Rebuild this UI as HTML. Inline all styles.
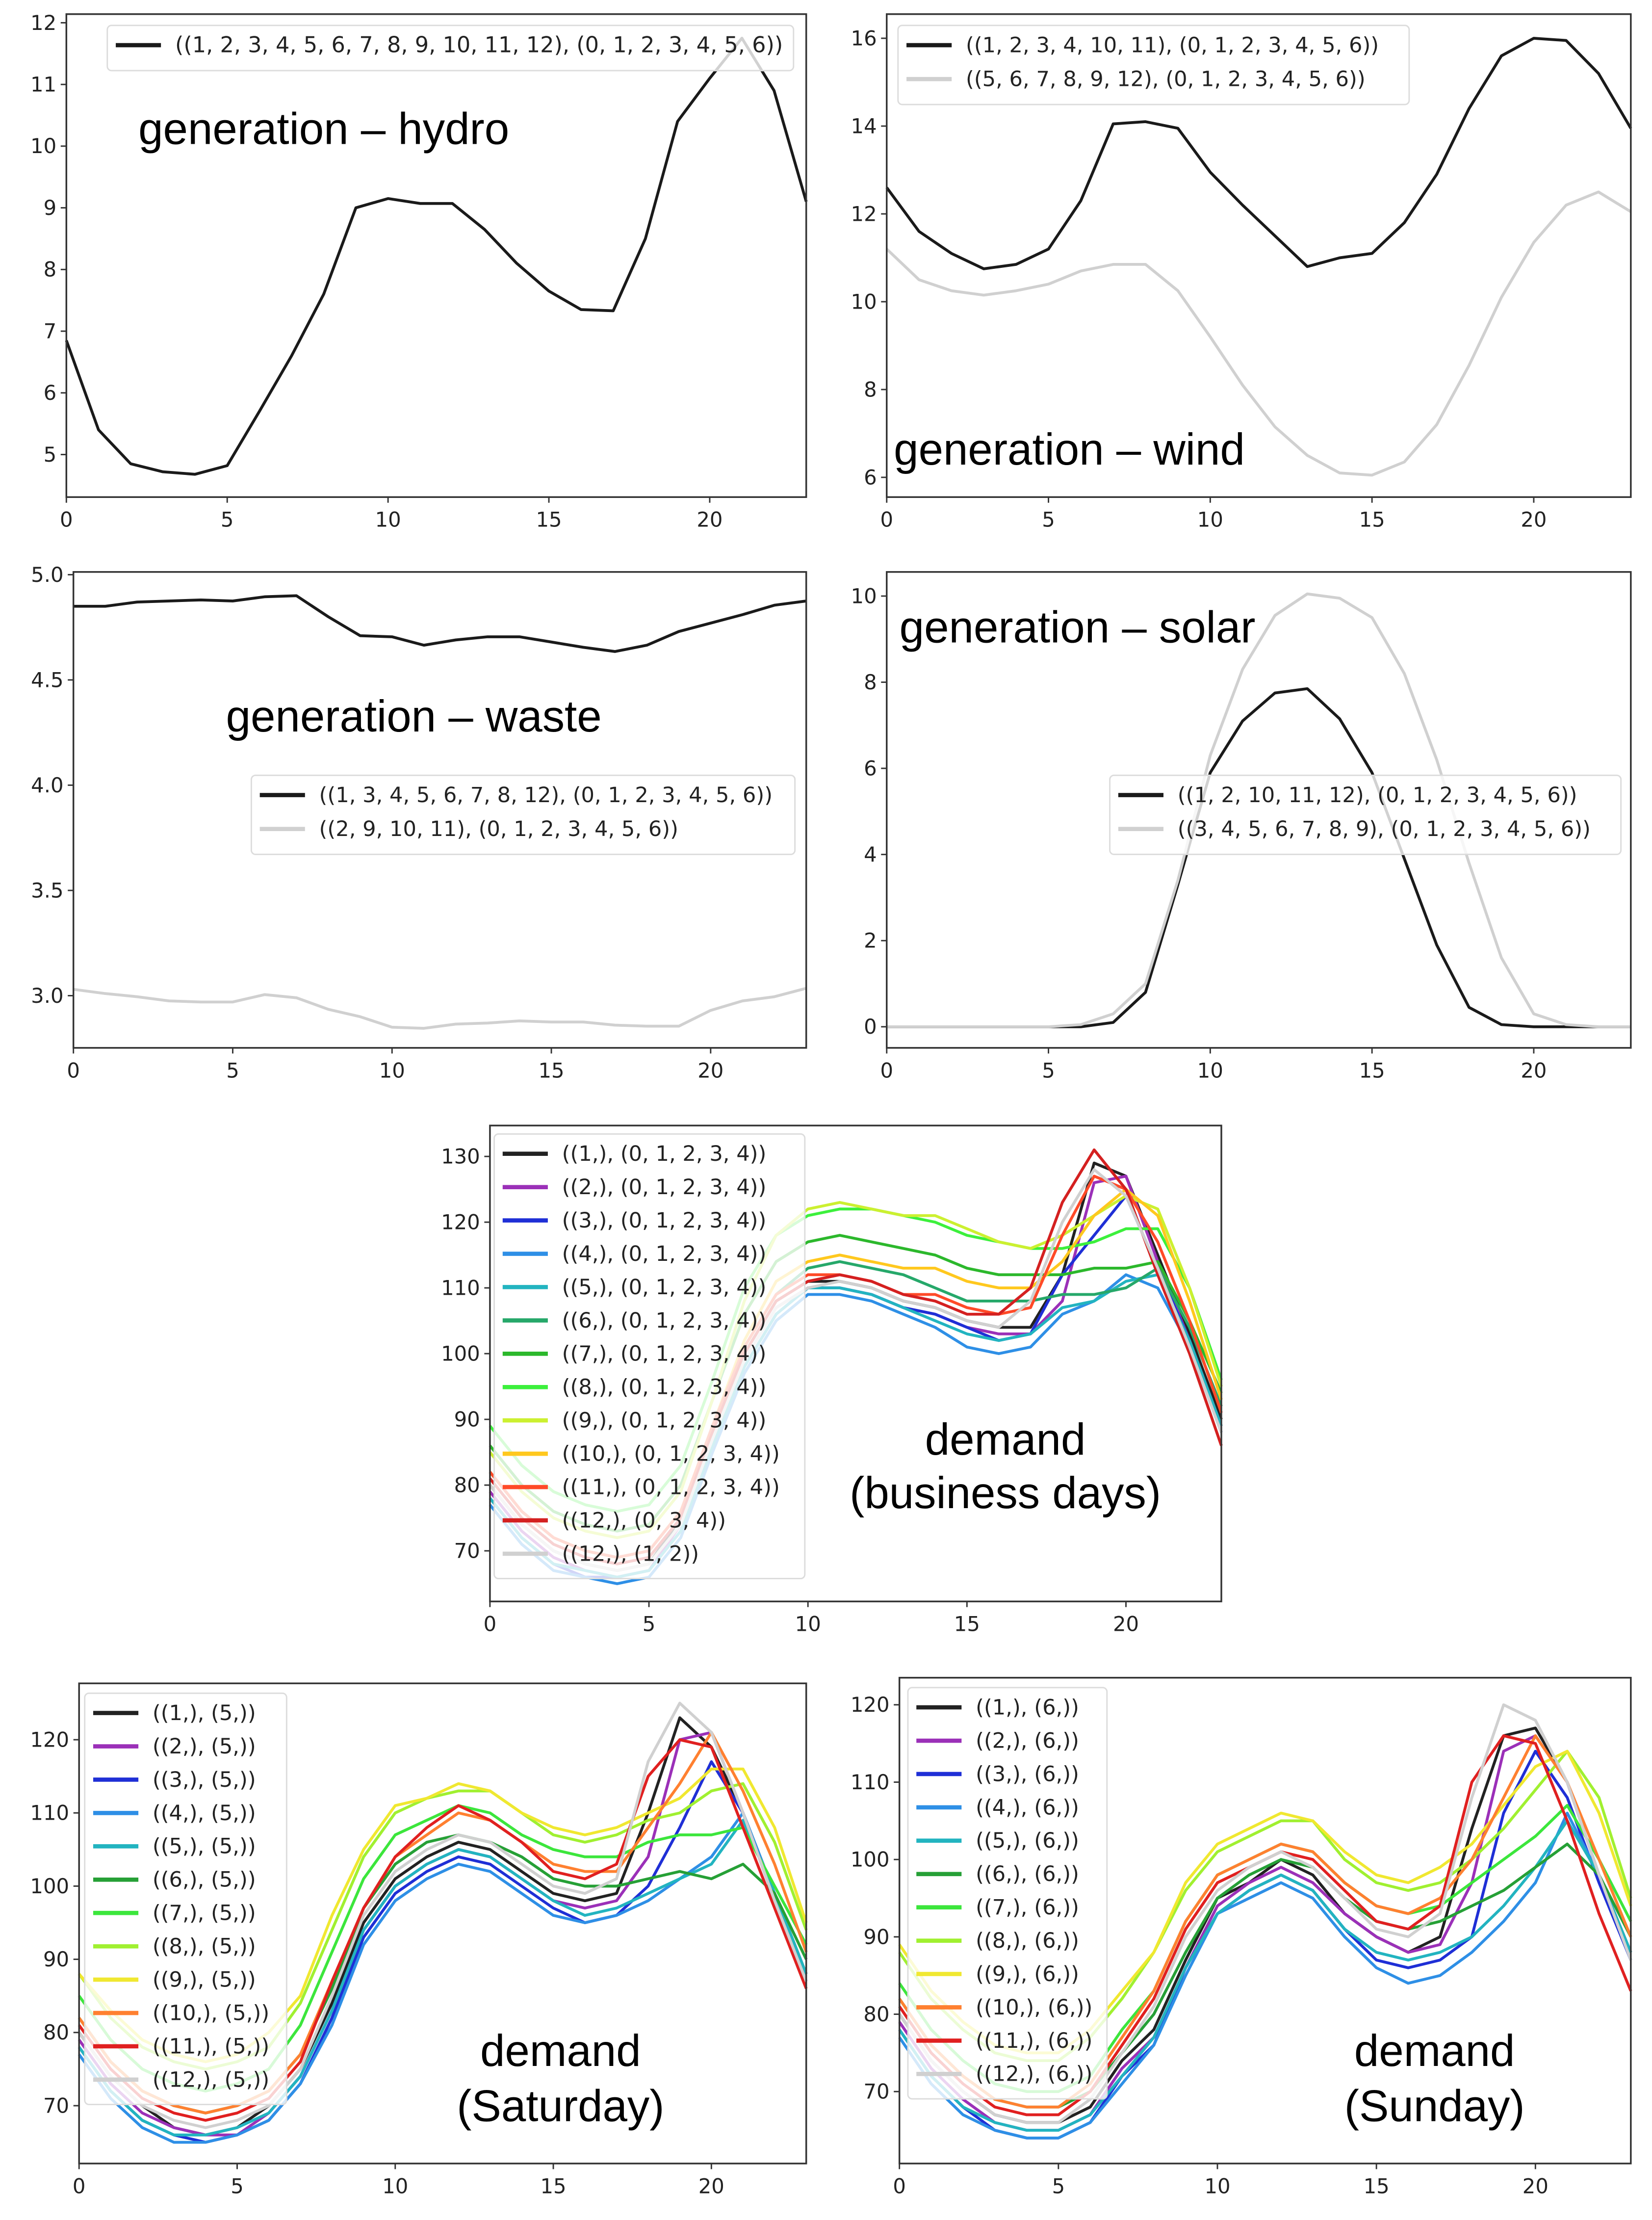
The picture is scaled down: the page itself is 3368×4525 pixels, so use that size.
<!DOCTYPE html>
<html><head><meta charset="utf-8">
<style>
html,body{margin:0;padding:0;background:#fff;}
svg{display:block;}
text{font-family:"DejaVu Sans","Liberation Sans",sans-serif;}
text.ttl{font-family:"Liberation Sans",sans-serif;}
</style></head>
<body>
<svg id="root" width="3368" height="4525" viewBox="0 0 1170 1572" preserveAspectRatio="none" xmlns="http://www.w3.org/2000/svg"></svg>
<script>
// ---------- DATA ----------
const hours = [0,1,2,3,4,5,6,7,8,9,10,11,12,13,14,15,16,17,18,19,20,21,22,23];
const xTicks = [0,5,10,15,20];

const hydroLabels = ["((1, 2, 3, 4, 5, 6, 7, 8, 9, 10, 11, 12), (0, 1, 2, 3, 4, 5, 6))"];
const hydroValues = [[6.85,5.4,4.85,4.72,4.68,4.82,5.7,6.6,7.6,9.0,9.15,9.07,9.07,8.65,8.1,7.65,7.35,7.33,8.5,10.4,11.1,11.75,10.9,9.1]];
const hydroYTicks = [5,6,7,8,9,10,11,12];

const windLabels = ["((1, 2, 3, 4, 10, 11), (0, 1, 2, 3, 4, 5, 6))","((5, 6, 7, 8, 9, 12), (0, 1, 2, 3, 4, 5, 6))"];
const windBlack = [12.6,11.6,11.1,10.75,10.85,11.2,12.3,14.05,14.1,13.95,12.95,12.2,11.5,10.8,11.0,11.1,11.8,12.9,14.4,15.6,16.0,15.95,15.2,13.95];
const windGray = [11.2,10.5,10.25,10.15,10.25,10.4,10.7,10.85,10.85,10.25,9.2,8.1,7.15,6.5,6.1,6.05,6.35,7.2,8.55,10.1,11.35,12.2,12.5,12.05];
const windYTicks = [6,8,10,12,14,16];

const wasteLabels = ["((1, 3, 4, 5, 6, 7, 8, 12), (0, 1, 2, 3, 4, 5, 6))","((2, 9, 10, 11), (0, 1, 2, 3, 4, 5, 6))"];
const wasteBlack = [4.85,4.85,4.87,4.875,4.88,4.875,4.895,4.9,4.8,4.71,4.705,4.665,4.69,4.705,4.705,4.68,4.655,4.635,4.665,4.73,4.77,4.81,4.855,4.875];
const wasteGray = [3.03,3.01,2.995,2.975,2.97,2.97,3.005,2.99,2.935,2.9,2.85,2.845,2.865,2.87,2.88,2.875,2.875,2.86,2.855,2.855,2.93,2.975,2.995,3.035];
const wasteYTicks = [3.0,3.5,4.0,4.5,5.0];

const solarLabels = ["((1, 2, 10, 11, 12), (0, 1, 2, 3, 4, 5, 6))","((3, 4, 5, 6, 7, 8, 9), (0, 1, 2, 3, 4, 5, 6))"];
const solarBlack = [0,0,0,0,0,0,0,0.1,0.8,3.3,5.9,7.1,7.75,7.85,7.15,5.9,3.9,1.9,0.45,0.05,0,0,0,0];
const solarGray = [0,0,0,0,0,0,0.05,0.3,1.0,3.4,6.3,8.3,9.55,10.05,9.95,9.5,8.2,6.2,3.8,1.6,0.3,0.05,0,0];
const solarYTicks = [0,2,4,6,8,10];

const busLabels = ["((1,), (0, 1, 2, 3, 4))","((2,), (0, 1, 2, 3, 4))","((3,), (0, 1, 2, 3, 4))","((4,), (0, 1, 2, 3, 4))","((5,), (0, 1, 2, 3, 4))","((6,), (0, 1, 2, 3, 4))","((7,), (0, 1, 2, 3, 4))","((8,), (0, 1, 2, 3, 4))","((9,), (0, 1, 2, 3, 4))","((10,), (0, 1, 2, 3, 4))","((11,), (0, 1, 2, 3, 4))","((12,), (0, 3, 4))","((12,), (1, 2))"];
const busValues = [
[80,74,70,68,67,68,75,88,100,108,111,111,110,108,107,105,104,104,112,129,127,115,103,90],
[79,73,69,67,66,67,74,87,99,107,110,110,109,107,106,104,103,103,108,126,127,114,102,89],
[78,72,68,66,66,67,73,86,98,106,110,110,109,107,106,104,102,103,112,118,124,113,102,88],
[77,71,67,66,65,66,72,85,97,105,109,109,108,106,104,101,100,101,106,108,112,110,101,88],
[78,72,68,67,66,67,73,86,98,106,110,110,109,107,105,103,102,103,107,108,111,112,102,89],
[82,76,72,70,69,70,76,89,101,109,113,114,113,112,110,108,108,108,109,109,110,113,104,92],
[86,80,76,74,73,74,80,93,106,114,117,118,117,116,115,113,112,112,112,113,113,114,105,94],
[89,83,79,77,76,77,83,96,110,118,121,122,122,121,120,118,117,116,116,117,119,119,110,96],
[85,79,75,73,72,73,79,93,108,118,122,123,122,121,121,119,117,116,118,121,124,122,110,95],
[82,76,72,70,69,70,76,89,102,111,114,115,114,113,113,111,110,110,114,121,125,121,108,93],
[82,76,72,70,69,70,76,89,101,109,112,112,111,109,109,107,106,107,118,127,125,117,105,91],
[81,75,71,69,68,69,75,88,100,108,111,112,111,109,108,106,106,110,123,131,125,112,100,86],
[80,74,70,68,67,68,74,87,99,107,110,111,110,108,107,105,104,108,120,128,124,113,101,88]];
const busYTicks = [70,80,90,100,110,120,130];

const satLabels = ["((1,), (5,))","((2,), (5,))","((3,), (5,))","((4,), (5,))","((5,), (5,))","((6,), (5,))","((7,), (5,))","((8,), (5,))","((9,), (5,))","((10,), (5,))","((11,), (5,))","((12,), (5,))"];
const satValues = [
[80,74,70,67,66,67,70,75,84,95,101,104,106,105,102,99,98,99,110,123,119,110,99,88],
[79,73,69,67,66,66,69,74,83,94,100,103,105,104,101,98,97,98,104,120,121,110,98,88],
[78,72,68,66,65,66,68,73,82,93,99,102,104,103,100,97,95,96,100,108,117,110,98,87],
[77,71,67,65,65,66,68,73,81,92,98,101,103,102,99,96,95,96,98,101,104,110,99,87],
[78,72,68,66,66,67,69,74,83,94,100,103,105,104,101,98,96,97,99,101,103,109,99,88],
[82,76,72,70,69,70,72,77,86,97,103,106,107,106,104,101,100,100,101,102,101,103,99,90],
[85,79,75,73,72,73,75,81,91,101,107,109,111,110,107,105,104,104,106,107,107,108,100,92],
[88,82,78,76,75,76,78,84,94,104,110,112,113,113,110,107,106,107,109,110,113,114,106,94],
[88,83,79,77,76,77,80,85,96,105,111,112,114,113,110,108,107,108,110,112,116,116,108,95],
[82,76,72,70,69,70,72,77,87,97,104,107,110,109,106,103,102,102,108,114,121,113,103,91],
[81,75,71,69,68,69,71,76,87,97,104,108,111,109,106,102,101,103,115,120,119,108,97,86],
[80,74,70,68,67,68,70,75,85,96,102,105,107,106,103,100,99,101,117,125,121,110,98,87]];
const satYTicks = [70,80,90,100,110,120];

const sunLabels = ["((1,), (6,))","((2,), (6,))","((3,), (6,))","((4,), (6,))","((5,), (6,))","((6,), (6,))","((7,), (6,))","((8,), (6,))","((9,), (6,))","((10,), (6,))","((11,), (6,))","((12,), (6,))"];
const sunValues = [
[80,74,70,67,66,66,68,74,78,87,95,97,100,98,93,90,88,90,104,116,117,110,98,88],
[79,73,69,66,65,65,67,73,77,86,94,97,99,97,93,90,88,89,97,114,116,110,98,87],
[78,72,68,65,64,64,66,72,76,86,93,96,98,96,91,87,86,87,90,106,114,108,97,87],
[77,71,67,65,64,64,66,71,76,85,93,95,97,95,90,86,84,85,88,92,97,106,98,87],
[78,72,68,66,65,65,67,72,77,86,93,96,98,96,91,88,87,88,90,94,99,105,98,88],
[82,76,72,69,68,68,70,75,80,88,95,98,100,99,95,92,91,92,94,96,99,102,98,90],
[84,78,74,71,70,70,72,78,83,92,98,100,102,101,97,94,93,94,97,100,103,107,100,92],
[88,82,78,75,74,74,77,82,88,96,101,103,105,105,100,97,96,97,100,104,109,114,108,95],
[89,83,79,76,75,75,78,83,88,97,102,104,106,105,101,98,97,99,102,107,112,114,106,94],
[82,76,72,69,68,68,71,77,83,92,98,100,102,101,97,94,93,95,100,108,116,110,100,90],
[81,75,71,68,67,67,70,76,82,91,97,99,101,100,96,92,91,94,110,116,115,105,93,83],
[80,74,70,67,66,66,69,75,81,90,96,99,101,99,95,91,90,93,108,120,118,110,98,87]];
const sunYTicks = [70,80,90,100,110,120];

// ---------- STYLE ----------
const busColors = ["#222222","#9b30b8","#1f2fd6","#2e8fe6","#22b4c0","#26a86a","#2cb82c","#3cf03c","#ccf030","#ffc81e","#ff4a28","#d42020","#d0d0d0"];
const monthColors = ["#222222","#9b30b8","#1f2fd6","#2e8fe6","#22b4c0","#26a036","#3ce63c","#a0f030","#f0e830","#ff8030","#e02020","#d0d0d0"];

const NS = "http://www.w3.org/2000/svg";
const root = document.getElementById("root");
function mk(tag, attrs, parent){
  const e = document.createElementNS(NS, tag);
  for (const k in attrs) e.setAttribute(k, attrs[k]);
  (parent||root).appendChild(e);
  return e;
}

function panel(cfg){
  const g = mk("g", {});
  
  
  const {x0,x1,y0,y1,yMin,yMax} = cfg;
  const sx = v => x0 + (v - 0) / 23 * (x1 - x0);
  const sy = v => y1 - (v - yMin) / (yMax - yMin) * (y1 - y0);
  xTicks.forEach(t=>{
    const tl = mk("line",{x1:sx(t),x2:sx(t),y1:y1,y2:y1+4,stroke:"#333","stroke-width":1},g);
    
    
    const tx = mk("text",{x:sx(t),y:y1+21,"font-size":14.5,"text-anchor":"middle",fill:"#222"},g);
    tx.textContent = t;
    
    
  });
  cfg.yTicks.forEach(t=>{
    const tl = mk("line",{x1:x0-4,x2:x0,y1:sy(t),y2:sy(t),stroke:"#333","stroke-width":1},g);
    
    
    const tx = mk("text",{x:x0-7,y:sy(t)+5,"font-size":14.5,"text-anchor":"end",fill:"#222"},g);
    tx.textContent = cfg.fmt ? t.toFixed(1) : t;
    
    
  });
  cfg.series.forEach((s,i)=>{
    const pts = hours.map((h,j)=>sx(h).toFixed(2)+","+sy(s.values[j]).toFixed(2)).join(" ");
    const pl = mk("polyline",{points:pts,fill:"none",stroke:s.color,"stroke-width":2,"stroke-linejoin":"round"},g);
    
    
  });
  const fr = mk("rect",{x:x0,y:y0,width:x1-x0,height:y1-y0,fill:"none",stroke:"#333","stroke-width":1.2},g);
  
  
  cfg.title.forEach((t,i)=>{
    const tt = mk("text",{x:t.x,y:t.y,"font-size":31.5,"text-anchor":t.anchor||"start",fill:"#000","class":"ttl"},g);
    tt.textContent = t.text;
    
    
  });
  const L = cfg.legend;
  const lg = mk("g",{},g);
  
  
  const lb = mk("rect",{x:L.x,y:L.y,width:L.w,height:L.step*cfg.series.length+8,rx:3,fill:"#fff","fill-opacity":0.8,stroke:"#dcdcdc","stroke-width":1},lg);
  
  
  cfg.series.forEach((s,i)=>{
    const cy = L.y + 14 + i*L.step;
    const ll = mk("line",{x1:L.x+6,x2:L.x+38,y1:cy,y2:cy,stroke:s.color,"stroke-width":3},lg);
    
    
    const lt = mk("text",{x:L.x+48,y:cy+5,"font-size":L.fs||15,fill:"#222"},lg);
    lt.textContent = s.label;
    
    
  });
}

panel({name:"hydro-chart",x0:47,x1:571,y0:10,y1:352,yMin:4.31,yMax:12.14,yTicks:hydroYTicks,
  series:[{values:hydroValues[0],color:"#1a1a1a",label:hydroLabels[0]}],
  title:[{text:"generation \u2013 hydro",x:98,y:102}],
  legend:{x:76,y:18,w:486,step:24,fs:15.5}});
panel({name:"wind-chart",x0:628,x1:1155,y0:10,y1:352,yMin:5.55,yMax:16.55,yTicks:windYTicks,
  series:[{values:windBlack,color:"#1a1a1a",label:windLabels[0]},{values:windGray,color:"#d0d0d0",label:windLabels[1]}],
  title:[{text:"generation \u2013 wind",x:633,y:329}],
  legend:{x:636,y:18,w:362,step:24,fs:15}});
panel({name:"waste-chart",x0:52,x1:571,y0:405,y1:742,yMin:2.752,yMax:5.013,yTicks:wasteYTicks,fmt:true,
  series:[{values:wasteBlack,color:"#1a1a1a",label:wasteLabels[0]},{values:wasteGray,color:"#d0d0d0",label:wasteLabels[1]}],
  title:[{text:"generation \u2013 waste",x:160,y:518}],
  legend:{x:178,y:549,w:385,step:24,fs:15}});
panel({name:"solar-chart",x0:628,x1:1155,y0:405,y1:742,yMin:-0.49,yMax:10.56,yTicks:solarYTicks,
  series:[{values:solarBlack,color:"#1a1a1a",label:solarLabels[0]},{values:solarGray,color:"#d0d0d0",label:solarLabels[1]}],
  title:[{text:"generation \u2013 solar",x:637,y:455}],
  legend:{x:786,y:549,w:362,step:24,fs:15}});
panel({name:"demand-business-days-chart",x0:347,x1:865,y0:797,y1:1134,yMin:62.3,yMax:134.7,yTicks:busYTicks,
  series:busValues.map((v,i)=>({values:v,color:busColors[i],label:busLabels[i]})),
  title:[{text:"demand",x:712,y:1030,anchor:"middle"},{text:"(business days)",x:712,y:1068,anchor:"middle"}],
  legend:{x:350,y:803,w:220,step:23.6,fs:15}});
panel({name:"demand-saturday-chart",x0:56,x1:571,y0:1192,y1:1532,yMin:62.1,yMax:127.7,yTicks:satYTicks,
  series:satValues.map((v,i)=>({values:v,color:monthColors[i],label:satLabels[i]})),
  title:[{text:"demand",x:397,y:1463,anchor:"middle"},{text:"(Saturday)",x:397,y:1502,anchor:"middle"}],
  legend:{x:60,y:1199,w:143,step:23.6,fs:15}});
panel({name:"demand-sunday-chart",x0:637,x1:1155,y0:1188,y1:1532,yMin:60.7,yMax:123.5,yTicks:sunYTicks,
  series:sunValues.map((v,i)=>({values:v,color:monthColors[i],label:sunLabels[i]})),
  title:[{text:"demand",x:1016,y:1463,anchor:"middle"},{text:"(Sunday)",x:1016,y:1502,anchor:"middle"}],
  legend:{x:643,y:1195,w:141,step:23.6,fs:15}});
</script>
</body></html>
